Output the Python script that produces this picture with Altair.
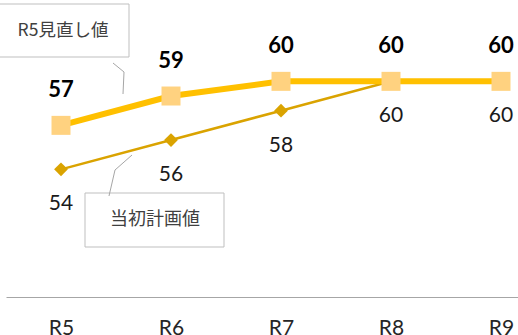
import altair as alt
import pandas as pd

# ---- data ----
years = ["R5", "R6", "R7", "R8", "R9"]
revised = [57, 59, 60, 60, 60]
initial = [54, 56, 58, 60, 60]
revised_name = "R5見直し値"
initial_name = "当初計画値"

df_rev = pd.DataFrame({"year": years, "value": revised})
df_ini = pd.DataFrame({"year": years, "value": initial})

# ---- layout ----
L, T = 6, 8
W, H = 512, 289
GOLD = "#FFC000"
SQUARE = "#FFD280"
DARK = "#DAA300"
GRAY = "#A6A6A6"

x = alt.X(
    "year:N",
    sort=years,
    scale=alt.Scale(type="point", range=[0, 550], padding=0.5),
    axis=alt.Axis(
        title=None, ticks=False, grid=False, labelAngle=0,
        domainColor=GRAY, domainWidth=1,
        labelFont="Lato", labelFontSize=21, labelColor="#262626",
        labelPadding=20,
    ),
)
y = alt.Y("value:Q", scale=alt.Scale(domain=[45.3, 65], nice=False, zero=False), axis=None)

ini_base = alt.Chart(df_ini).encode(x=x, y=y)
rev_base = alt.Chart(df_rev).encode(x=x, y=y)

ini_line = ini_base.mark_line(color=DARK, strokeWidth=2.5)
ini_pts = ini_base.mark_point(shape="diamond", filled=True, size=190, color=DARK, opacity=1)
ini_txt = ini_base.mark_text(dy=35, font="Lato", fontSize=21, color="#1a1a1a").encode(text="value:Q")

rev_line = rev_base.mark_line(color=GOLD, strokeWidth=6)
rev_pts = rev_base.mark_point(shape="square", filled=True, size=361, color=SQUARE, opacity=1)
rev_txt = rev_base.mark_text(dy=-35, font="Lato", fontSize=22, fontWeight="bold", color="#000000").encode(text="value:Q")

# ---- callouts ----
one = pd.DataFrame({"t": [revised_name]})
two = pd.DataFrame({"t": [initial_name]})

box1 = alt.Chart(one).mark_rect(fill="white", stroke="#BFBFBF", strokeWidth=1).encode(
    x=alt.value(-2 - L), x2=alt.value(129 - L), y=alt.value(4 - T), y2=alt.value(57 - T))
box1_txt = alt.Chart(one).mark_text(font="Noto Sans CJK JP", fontSize=17.5, color="#404040").encode(
    x=alt.value(63 - L), y=alt.value(31 - T), text="t:N")
lead1a = alt.Chart(one).mark_rule(color=GRAY, strokeWidth=1).encode(
    x=alt.value(113 - L), x2=alt.value(124 - L), y=alt.value(63 - T), y2=alt.value(72 - T))
lead1b = alt.Chart(one).mark_rule(color=GRAY, strokeWidth=1).encode(
    x=alt.value(124 - L), x2=alt.value(123 - L), y=alt.value(72 - T), y2=alt.value(94 - T))

box2 = alt.Chart(two).mark_rect(fill="white", stroke="#BFBFBF", strokeWidth=1).encode(
    x=alt.value(85 - L), x2=alt.value(224 - L), y=alt.value(193 - T), y2=alt.value(247 - T))
box2_txt = alt.Chart(two).mark_text(font="Noto Sans CJK JP", fontSize=18, color="#404040").encode(
    x=alt.value(155 - L), y=alt.value(220 - T), text="t:N")
lead2a = alt.Chart(two).mark_rule(color=GRAY, strokeWidth=1).encode(
    x=alt.value(132 - L), x2=alt.value(115 - L), y=alt.value(155 - T), y2=alt.value(170 - T))
lead2b = alt.Chart(two).mark_rule(color=GRAY, strokeWidth=1).encode(
    x=alt.value(115 - L), x2=alt.value(109 - L), y=alt.value(170 - T), y2=alt.value(196 - T))

chart = alt.layer(
    ini_line, rev_line, ini_pts, rev_pts, ini_txt, rev_txt,
    box1, box1_txt, lead1a, lead1b, box2, box2_txt, lead2a, lead2b,
).properties(
    width=W, height=H,
    padding={"left": L, "top": T, "right": 0, "bottom": 335 - T - H},
    autosize=alt.AutoSizeParams(type="none"),
    background="white",
).configure_view(stroke=None)

chart.save("out.html", embed_options={"renderer": "svg", "actions": False})
